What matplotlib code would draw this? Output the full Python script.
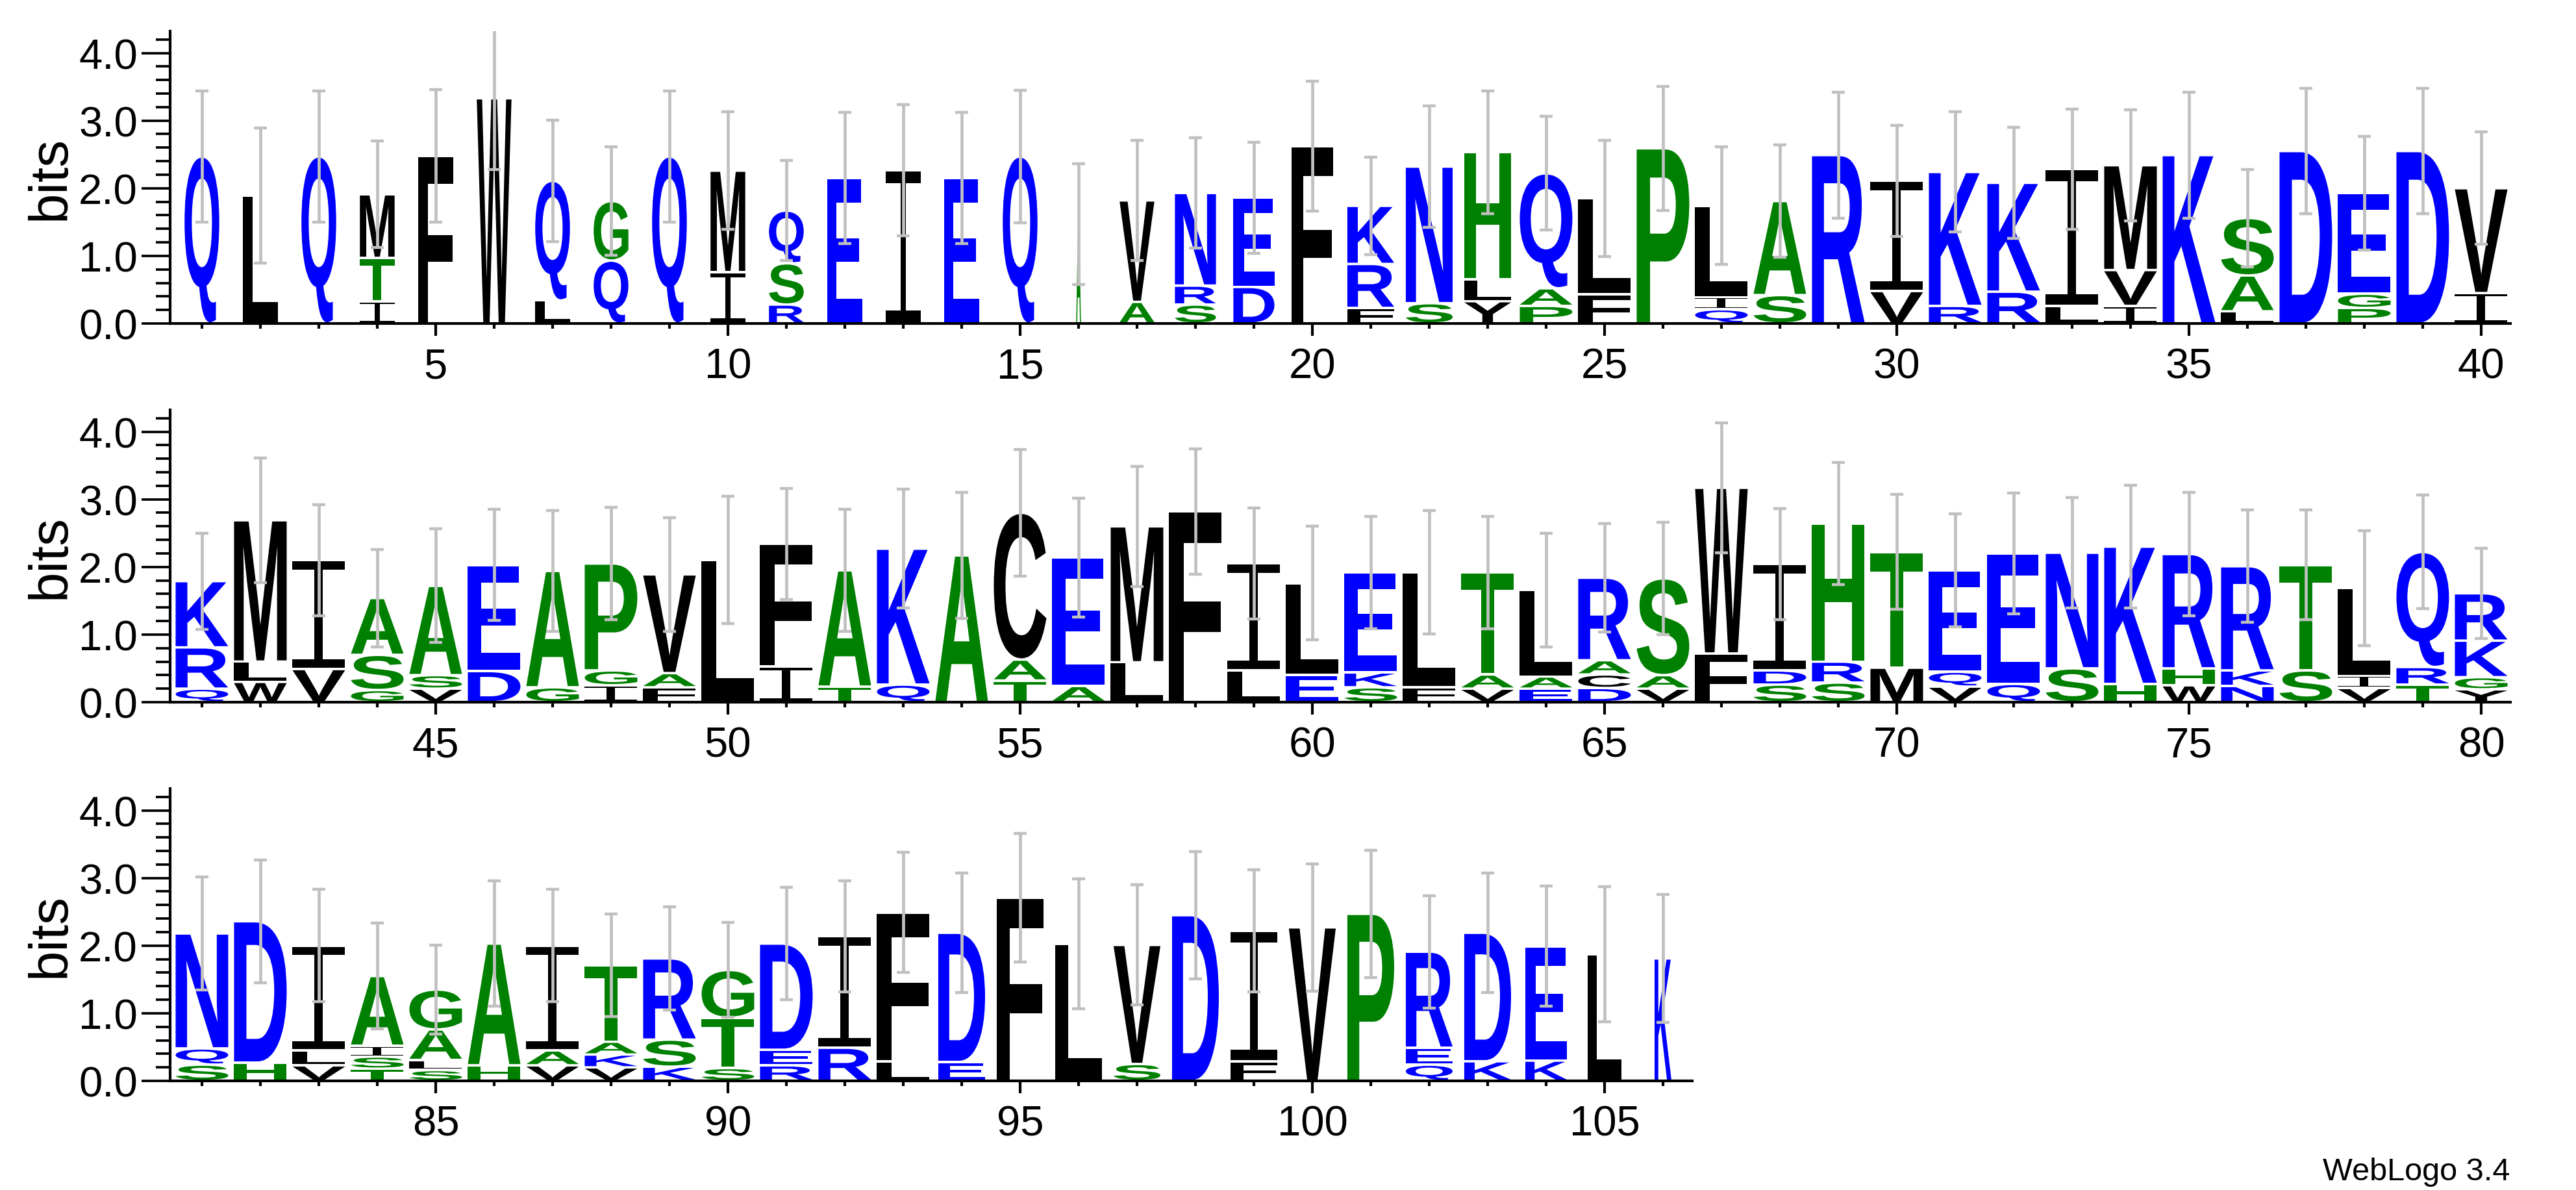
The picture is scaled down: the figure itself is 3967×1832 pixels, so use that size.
import matplotlib
matplotlib.use("Agg")
import matplotlib.pyplot as plt
from matplotlib.font_manager import FontProperties
from matplotlib.patches import PathPatch
from matplotlib.path import Path
from matplotlib.textpath import TextPath
from matplotlib.transforms import Affine2D
from matplotlib.ticker import MultipleLocator, FormatStrFormatter

# sequence logo, 106 columns. Each column: residues bottom -> top, heights in bits,
# error-bar half length, and the non-gap fraction (scales the stack width).
LETTERS_1 = ["Q", "L", "Q", "ITM", "F", "W", "LQ", "QG", "Q", "IM",
             "RSQ", "E", "I", "E", "Q", "A", "AV", "SRN", "DE", "F",
             "FRK", "SN", "YLH", "PAQ", "FL", "P", "QIL", "SA", "R", "VI",
             "RK", "RK", "LI", "IVM", "K", "LAS", "D", "PGE", "D", "IV"]
HEIGHTS_1 = [[2.47], [1.89], [2.47], [0.33, 0.64, 0.94], [2.48], [3.33], [0.34, 1.77], [0.93, 0.88], [2.47], [0.76, 1.50],
             [0.28, 0.61, 0.78], [2.15], [2.27], [2.15], [2.47], [1.47], [0.32, 1.50], [0.28, 0.28, 1.37], [0.54, 1.32], [2.62],
             [0.23, 0.65, 0.86], [0.30, 2.02], [0.33, 0.32, 1.88], [0.26, 0.26, 1.70], [0.43, 1.42], [2.59], [0.21, 0.18, 1.35],
             [0.42, 1.39], [2.49], [0.48, 1.63],
             [0.26, 1.98], [0.47, 1.61], [0.26, 2.02], [0.26, 0.53, 1.55], [2.49], [0.18, 0.53, 0.85], [2.55], [0.23, 0.21, 1.49],
             [2.55], [0.45, 1.55]]
ERR_1 = [0.97, 1.00, 0.97, 0.79, 0.98, 1.05, 0.90, 0.80, 0.97, 0.87,
         0.74, 0.97, 0.97, 0.97, 0.98, 0.89, 0.89, 0.82, 0.82, 0.96,
         0.72, 0.90, 0.91, 0.84, 0.86, 0.92, 0.87, 0.83, 0.93, 0.82,
         0.89, 0.82, 0.89, 0.82, 0.93, 0.72, 0.93, 0.84, 0.93, 0.83]
WIDTH_1 = [0.66, 0.66, 0.66, 0.66, 0.66, 0.66, 0.66, 0.66, 0.66, 0.66,
           0.66, 0.66, 0.66, 0.66, 0.66, 0.09, 0.66, 0.78, 0.78, 0.78,
           0.89, 0.89, 0.89, 1.00, 1.00, 1.00, 1.00, 1.00, 1.00, 1.00,
           1.00, 1.00, 1.00, 1.00, 1.00, 1.00, 1.00, 1.00, 1.00, 1.00]

LETTERS_2 = ["QRK", "WLM", "VI", "GSA", "VSA", "DE", "GA", "IGP", "FAV", "L",
             "IF", "TA", "QK", "A", "TAC", "AE", "LM", "F", "LI", "EL",
             "SKE", "FL", "VAT", "EAL", "DCAR", "VAS", "FW", "SDI", "SRH", "MT",
             "VQE", "QE", "SN", "HK", "WHR", "NKR", "ST", "VIL", "TRQ", "YGKR"]
HEIGHTS_2 = [[0.20, 0.61, 0.98], [0.30, 0.30, 2.09], [0.49, 1.61], [0.18, 0.52, 0.84], [0.20, 0.20, 1.32], [0.46, 1.57],
             [0.22, 1.72], [0.25, 0.22, 1.58], [0.22, 0.21, 1.46], [2.10],
             [0.53, 1.81], [0.23, 1.72], [0.26, 2.01], [2.17], [0.32, 0.31, 2.17], [0.24, 1.90], [0.59, 2.01], [2.82],
             [0.47, 1.58], [0.40, 1.36],
             [0.22, 0.22, 1.48], [0.22, 1.70], [0.20, 0.21, 1.51], [0.20, 0.18, 1.28], [0.21, 0.20, 0.21, 1.22],
             [0.20, 0.20, 1.43], [0.72, 2.45], [0.26, 0.21, 1.57], [0.29, 0.31, 2.04], [0.51, 1.71],
             [0.23, 0.22, 1.50], [0.27, 1.93], [0.50, 1.71], [0.27, 2.03], [0.25, 0.25, 1.69], [0.24, 0.23, 1.54],
             [0.47, 1.56], [0.21, 0.18, 1.30], [0.26, 0.26, 1.70], [0.19, 0.18, 0.54, 0.70]]
ERR_2 = [0.71, 0.92, 0.82, 0.72, 0.84, 0.82, 0.89, 0.83, 0.84, 0.94,
         0.82, 0.90, 0.88, 0.93, 0.94, 0.88, 0.89, 0.93, 0.82, 0.84,
         0.83, 0.91, 0.83, 0.84, 0.80, 0.83, 0.96, 0.82, 0.90, 0.85,
         0.84, 0.89, 0.82, 0.91, 0.91, 0.83, 0.81, 0.85, 0.84, 0.67]
WIDTH_2 = [1.00, 1.00, 1.00, 1.00, 1.00, 1.00, 1.00, 1.00, 1.00, 1.00,
           1.00, 1.00, 1.00, 1.00, 1.00, 1.00, 1.00, 1.00, 1.00, 1.00,
           1.00, 1.00, 1.00, 1.00, 1.00, 1.00, 1.00, 1.00, 1.00, 1.00,
           1.00, 1.00, 1.00, 1.00, 1.00, 1.00, 1.00, 1.00, 1.00, 1.00]

LETTERS_3 = ["SQN", "HD", "VLI", "TSIA", "SLAG", "HA", "VAI", "VKAT", "KSR", "STG",
             "RED", "RI", "LF", "ED", "F", "L", "SV", "D", "FI", "V",
             "P", "QER", "KD", "KE", "L", "K"]
HEIGHTS_3 = [[0.24, 0.24, 1.70], [0.27, 2.09], [0.23, 0.22, 1.55], [0.18, 0.18, 0.16, 1.03], [0.16, 0.15, 0.45, 0.59],
             [0.23, 1.80], [0.23, 0.22, 1.55], [0.20, 0.19, 0.19, 1.13], [0.21, 0.40, 1.20], [0.19, 0.74, 0.71],
             [0.23, 0.23, 1.57], [0.49, 1.65], [0.29, 2.20], [0.28, 1.91], [2.71], [2.03], [0.25, 1.76], [2.45],
             [0.29, 1.93], [2.27],
             [2.47], [0.24, 0.25, 1.42], [0.29, 1.90], [0.30, 1.69], [1.87], [1.81]]
ERR_3 = [0.84, 0.91, 0.83, 0.78, 0.66, 0.93, 0.83, 0.76, 0.76, 0.70,
         0.83, 0.82, 0.89, 0.88, 0.95, 0.96, 0.89, 0.94, 0.90, 0.94,
         0.94, 0.83, 0.88, 0.89, 1.00, 0.95]
WIDTH_3 = [1.00, 1.00, 1.00, 1.00, 1.00, 1.00, 1.00, 1.00, 1.00, 1.00,
           1.00, 1.00, 1.00, 0.89, 0.89, 0.89, 0.89, 0.89, 0.89, 0.89,
           0.89, 0.89, 0.89, 0.79, 0.65, 0.32]

ROWS = [(1, 40), (41, 80), (81, 106)]
LETTERS = LETTERS_1 + LETTERS_2 + LETTERS_3
HEIGHTS = HEIGHTS_1 + HEIGHTS_2 + HEIGHTS_3
ERR = ERR_1 + ERR_2 + ERR_3
WIDTH = WIDTH_1 + WIDTH_2 + WIDTH_3
for s, h in zip(LETTERS, HEIGHTS):
    assert len(s) == len(h), (s, h)

BLUE, GREEN, BLACK, GREY = "#0000ff", "#008000", "#000000", "#c0c0c0"
COLOURS = {**{c: BLUE for c in "DEKRNQ"}, **{c: GREEN for c in "STGAPH"}}
FULL_W = 0.9      # stack width (in columns) for a gap-free column
GAP = 0.018       # white gap between stacked letters (bits)
YMAX = 4.3219     # log2(20)

FW, FH = 3967, 1833
AX_LEFT, AX_H, UNIT = 262, 450, 90.0
ROW_TOP = [49, 632, 1215]

plt.rcParams.update({"font.family": "Liberation Sans"})
BOLD = FontProperties(family="Liberation Sans", weight="bold")

_glyphs = {}


def unit_glyph(ch):
    # glyph outline normalised to the unit square; WebLogo stretches it to fill the box
    if ch not in _glyphs:
        if ch == "I":
            t, s = 0.08, 0.08
            verts = [(0, 0), (1, 0), (1, t), (0.5 + s, t), (0.5 + s, 1 - t), (1, 1 - t), (1, 1),
                     (0, 1), (0, 1 - t), (0.5 - s, 1 - t), (0.5 - s, t), (0, t), (0, 0)]
            p = Path(verts, closed=True)
        else:
            p = TextPath((0, 0), ch, size=1, prop=BOLD)
        b = p.get_extents()
        _glyphs[ch] = p.transformed(Affine2D().translate(-b.x0, -b.y0).scale(1 / b.width, 1 / b.height))
    return _glyphs[ch]


fig = plt.figure(figsize=(FW / 100, FH / 100), dpi=100)

for (lo, hi), top in zip(ROWS, ROW_TOP):
    x0, x1 = lo - 0.544, hi + 0.5
    ax = fig.add_axes([AX_LEFT / FW, 1 - (top + AX_H) / FH, (x1 - x0) * UNIT / FW, AX_H / FH])
    ax.set_xlim(x0, x1)
    ax.set_ylim(0, YMAX)

    for pos in range(lo, hi + 1):
        i = pos - 1
        w = FULL_W * WIDTH[i]
        y = 0.0
        for ch, h in zip(LETTERS[i], HEIGHTS[i]):
            m = GAP if h > 4 * GAP else 0.0
            path = unit_glyph(ch).transformed(Affine2D().scale(w, h - 2 * m).translate(pos - w / 2, y + m))
            ax.add_patch(PathPatch(path, fc=COLOURS.get(ch, BLACK), ec="none", lw=0, zorder=2))
            y += h

    cols = list(range(lo, hi + 1))
    tops = [sum(HEIGHTS[p - 1]) for p in cols]
    ax.errorbar(cols, tops, yerr=ERR[lo - 1:hi], fmt="none", ecolor=GREY, elinewidth=3.4,
                capsize=7.5, capthick=3.2, zorder=4)

    ax.spines[["top", "right"]].set_visible(False)
    for sp in ("left", "bottom"):
        ax.spines[sp].set_linewidth(3)
    ax.yaxis.set_major_locator(MultipleLocator(1))
    ax.yaxis.set_minor_locator(MultipleLocator(0.2))
    ax.yaxis.set_major_formatter(FormatStrFormatter("%.1f"))
    ax.xaxis.set_major_locator(MultipleLocator(5))
    ax.xaxis.set_minor_locator(MultipleLocator(1))
    ax.tick_params(axis="y", which="major", length=32, width=2.7, labelsize=47, pad=4)
    ax.tick_params(axis="y", which="minor", length=16, width=2.7)
    ax.tick_params(axis="x", which="major", length=14, width=3, labelsize=47, pad=12)
    ax.tick_params(axis="x", which="minor", length=6, width=3)
    ax.patch.set_alpha(0)

    fig.text(78 / FW, 1 - (top + AX_H / 2) / FH, "bits", rotation=90, ha="center", va="center", fontsize=60)

fig.text(3865 / FW, 1 - 1817 / FH, "WebLogo 3.4", ha="right", va="baseline", fontsize=35)

fig.savefig("out.png", dpi=100, facecolor="white")
